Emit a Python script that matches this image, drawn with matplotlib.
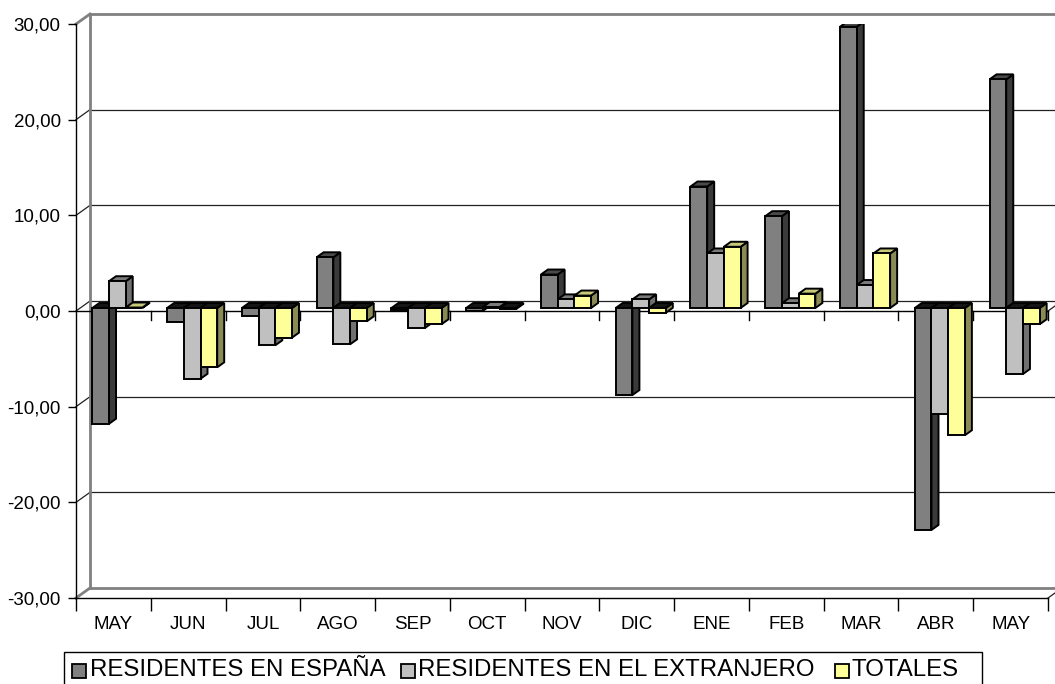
import numpy as np
import matplotlib.pyplot as plt
from matplotlib.patches import Polygon, Rectangle

plt.rcParams['font.family'] = ['Liberation Sans', 'DejaVu Sans']

months = ['MAY', 'JUN', 'JUL', 'AGO', 'SEP', 'OCT', 'NOV', 'DIC', 'ENE', 'FEB', 'MAR', 'ABR', 'MAY']
espana = [-12.1, -1.5, -0.8, 5.3, -0.2, -0.3, 3.5, -9.1, 12.7, 9.6, 29.4, -23.2, 23.9]
extranjero = [2.8, -7.4, -3.9, -3.8, -2.1, 0.1, 0.9, 0.9, 5.7, 0.5, 2.4, -11.1, -6.9]
totales = [0.05, -6.2, -3.1, -1.4, -1.7, -0.1, 1.3, -0.5, 6.4, 1.5, 5.7, -13.3, -1.7]
series_names = ['RESIDENTES EN ESPAÑA', 'RESIDENTES EN EL EXTRANJERO', 'TOTALES']
yticks = [-30, -20, -10, 0, 10, 20, 30]

# front, side, top colours for each series
front_cols = ['#808080', '#C0C0C0', '#FFFF99']
side_cols = ['#3a3a3a', '#707070', '#8a8a55']
top_cols = ['#4a4a4a', '#7a7a7a', '#c8c87a']

W, H = 1055, 684
fig = plt.figure(figsize=(W / 100, H / 100), dpi=100)
# front plane of the plot: x 76..1048 px, y 24..598 px
ax = fig.add_axes([76 / W, (H - 598) / H, (1048 - 76) / W, (598 - 24) / H])
n = len(months)
ax.set_xlim(-0.5, n - 0.5)
ax.set_ylim(-30, 30)

# pixel -> data conversion for the fake depth
px_x = (n) / (1048 - 76)
px_y = 60 / (598 - 24)
wall_dx, wall_dy = 14 * px_x, 10 * px_y
face_dx, face_dy = 4 * px_x, 3 * px_y
bar_dx, bar_dy = 7 * px_x, 5 * px_y

grey = '#808080'
# back wall gridlines and left wall diagonals
for v in yticks:
    if v in (-30, 30):
        continue
    ax.plot([-0.5 + wall_dx, n - 0.5 + wall_dx + 1], [v + wall_dy] * 2, color='#222222', lw=0.9,
            clip_on=False, zorder=1)
    ax.plot([-0.5, -0.5 + wall_dx], [v, v + wall_dy], color='#222222', lw=0.9, clip_on=False, zorder=1)
# wall borders
for v in (-30, 30):
    ax.plot([-0.5 + wall_dx, n - 0.5 + wall_dx + 1], [v + wall_dy] * 2, color=grey, lw=2,
            clip_on=False, zorder=1)
    ax.plot([-0.5, -0.5 + wall_dx], [v, v + wall_dy], color=grey, lw=2, clip_on=False, zorder=1)
ax.plot([-0.5 + wall_dx] * 2, [-30 + wall_dy, 30 + wall_dy], color=grey, lw=2, clip_on=False, zorder=1)
ax.plot([n - 0.5, n - 0.5 + wall_dx], [-30, -30 + wall_dy], color='#222222', lw=0.9, clip_on=False, zorder=1)
ax.plot([n - 0.5, n - 0.5 + wall_dx], [0, wall_dy], color='#222222', lw=0.9, clip_on=False, zorder=1)

# front zero line with category ticks
ax.plot([-0.5, n - 0.5], [0, 0], color='black', lw=1, zorder=2, clip_on=False)
tick_len = 9 * px_y
for b in np.arange(0.5, n, 1.0):
    ax.plot([b, b], [0, -tick_len], color='black', lw=1, zorder=2, clip_on=False)

# bars with fake 3d faces
bw = 16.7 * px_x
for i in range(n):
    vals = [espana[i], extranjero[i], totales[i]]
    x_start = i - 1.5 * bw + face_dx
    for k, v in enumerate(vals):
        x0 = x_start + k * bw
        lo = face_dy + min(v, 0)
        hi = face_dy + max(v, 0)
        top_col = top_cols[k] if v > 0 else '#151515'
        side = Polygon([(x0 + bw, lo), (x0 + bw, hi), (x0 + bw + bar_dx, hi + bar_dy),
                        (x0 + bw + bar_dx, lo + bar_dy)], closed=True,
                       facecolor=side_cols[k], edgecolor='black', lw=1.4, zorder=3 + i * 0.01)
        top = Polygon([(x0, hi), (x0 + bw, hi), (x0 + bw + bar_dx, hi + bar_dy),
                       (x0 + bar_dx, hi + bar_dy)], closed=True,
                      facecolor=top_col, edgecolor='black', lw=1.4, zorder=3 + i * 0.01)
        front = Rectangle((x0, lo), bw, hi - lo, facecolor=front_cols[k], edgecolor='black',
                          lw=1.4, zorder=3 + i * 0.01)
        ax.add_patch(side)
        ax.add_patch(top)
        ax.add_patch(front)

# axes spines and ticks
for s in ['top', 'right']:
    ax.spines[s].set_visible(False)
ax.spines['left'].set_linewidth(1)
ax.spines['bottom'].set_linewidth(1)
ax.set_yticks(yticks)
ax.set_yticklabels([f'{v:.2f}'.replace('.', ',') for v in yticks], fontsize=13.5)
ax.tick_params(axis='y', length=6, width=1, pad=5)
ax.set_xticks(np.arange(-0.5, n, 1.0), minor=True)
ax.set_xticks(np.arange(n))
ax.set_xticklabels(months, fontsize=13.5)
ax.tick_params(axis='x', which='major', length=0, pad=13)
ax.tick_params(axis='x', which='minor', length=9, width=1)
ax.patch.set_alpha(0)

# legend built by hand
leg_fs = 17.3
fig.patches.append(Rectangle((64 / W, -0.05), (982 - 64) / W, 0.05 + (H - 652) / H,
                             transform=fig.transFigure, facecolor='white', edgecolor='black', lw=1))
marker_x = [72, 401, 835]
text_x = [90, 418, 852]
for k in range(3):
    fig.patches.append(Rectangle((marker_x[k] / W, (H - 678) / H), 14 / W, 14 / H,
                                 transform=fig.transFigure, facecolor=front_cols[k],
                                 edgecolor='black', lw=1.3))
    fig.text(text_x[k] / W, (H - 670.5) / H, series_names[k], fontsize=leg_fs, va='center', ha='left')

fig.savefig('out.png', dpi=100)
